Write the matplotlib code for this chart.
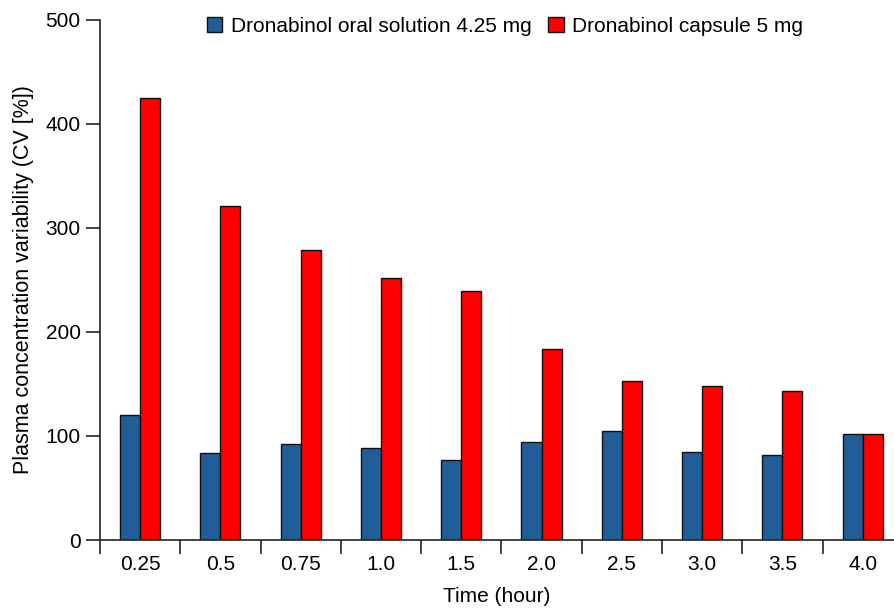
import matplotlib
matplotlib.use("Agg")
import matplotlib.pyplot as plt
import numpy as np
from matplotlib.patches import Patch

plt.rcParams["font.family"] = ["Liberation Sans", "DejaVu Sans"]

times = ["0.25", "0.5", "0.75", "1.0", "1.5", "2.0", "2.5", "3.0", "3.5", "4.0"]
oral_solution = [120, 84, 92, 88, 76.5, 94, 105, 84.5, 82, 102]
capsule = [425, 320.5, 279, 252, 239, 184, 152.5, 148, 143, 102]

blue = "#215e98"
red = "#ff0000"

fig = plt.figure(figsize=(8.94, 6.09), dpi=100)
ax = fig.add_axes([100 / 894, 69 / 609, 1 - 100 / 894, (540 - 19.7) / 609])

x = np.arange(len(times))
w = 0.25
ax.bar(x - w / 2, oral_solution, width=w, color=blue, edgecolor="#111111", linewidth=1.0)
ax.bar(x + w / 2, capsule, width=w, color=red, edgecolor="#111111", linewidth=1.0)

ax.set_xlim(-0.5, 9.39)
ax.set_ylim(0, 500)
ax.set_yticks(range(0, 501, 100))

# labels sit under each group, tick marks sit between groups
ax.set_xticks(x)
ax.set_xticklabels(times)
ax.set_xticks(np.arange(-0.5, 9.0, 1.0), minor=True)
ax.tick_params(axis="x", which="major", length=0, pad=11, labelsize=15)
ax.tick_params(axis="x", which="minor", length=10, width=1.2, color="#222222")
ax.tick_params(axis="y", length=10, width=1.2, color="#222222", labelsize=15, pad=4)

for side in ("top", "right"):
    ax.spines[side].set_visible(False)
for side in ("left", "bottom"):
    ax.spines[side].set_linewidth(1.2)
    ax.spines[side].set_color("#222222")

ax.set_xlabel("Time (hour)", fontsize=15, labelpad=9)
ax.set_ylabel("Plasma concentration variability (CV [%])", fontsize=15.5, labelpad=8)

handles = [
    Patch(facecolor=blue, edgecolor="#111111", label="Dronabinol oral solution 4.25 mg"),
    Patch(facecolor=red, edgecolor="#111111", label="Dronabinol capsule 5 mg"),
]
ax.legend(handles=handles, loc="upper center", bbox_to_anchor=(505 / 894, 1 - 17 / 609),
          bbox_transform=fig.transFigure, ncol=2, frameon=False, fontsize=15,
          handlelength=0.75, handleheight=0.75, handletextpad=0.4, columnspacing=0.8,
          borderpad=0, borderaxespad=0)

fig.savefig("out.png", dpi=100)
